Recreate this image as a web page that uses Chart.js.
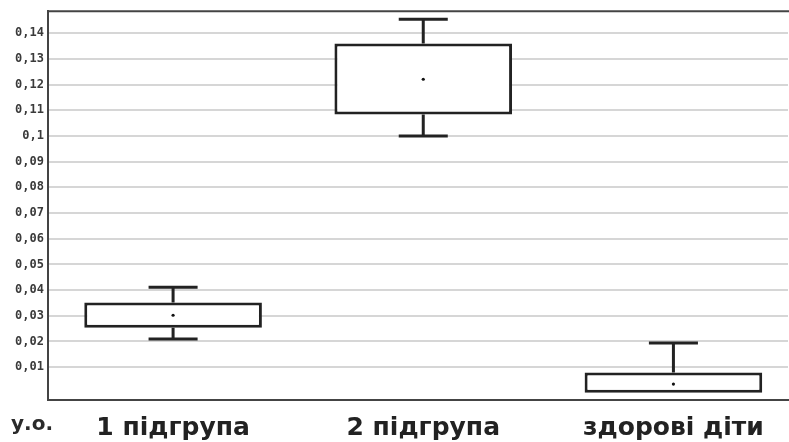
<!DOCTYPE html>
<html>
<head>
<meta charset="utf-8">
<script src="https://cdn.jsdelivr.net/npm/chart.js@4"></script>
<style>
    html, body { margin: 0; padding: 0; background: #fff; overflow: hidden; }
    #wrap { position: relative; width: 789px; height: 442px; overflow: hidden; }
    #unit {
        position: absolute; left: 11px; top: 411px; line-height: 20px;
        font: bold 20px "DejaVu Sans", sans-serif; color: #2a2a2a;
    }
</style>
</head>
<body>
<div id="wrap">
    <canvas id="boxChart" width="792" height="442"></canvas>
    <div id="unit">у.о.</div>
</div>
<script>
// Groups and box statistics
const groups = ['1 підгрупа', '2 підгрупа', 'здорові діти'];
const mins  = [0.0210, 0.1000, 0.0000];
const q1s   = [0.0253, 0.1084, 0.0000];
const q3s   = [0.0352, 0.1360, 0.0079];
const maxs  = [0.0411, 0.1455, 0.0194];
const means = [0.0302, 0.1221, 0.0034];

const yTicks = [0.01, 0.02, 0.03, 0.04, 0.05, 0.06, 0.07, 0.08, 0.09, 0.1, 0.11, 0.12, 0.13, 0.14];

// whiskers, caps and the top frame line
const boxExtras = {
    id: 'boxExtras',
    beforeDatasetsDraw(chart) {
        const { ctx, scales: { x, y } } = chart;
        ctx.save();
        ctx.strokeStyle = '#222';
        ctx.lineWidth = 3;
        ctx.lineCap = 'butt';
        groups.forEach((g, i) => {
            const cx = x.getPixelForValue(i + 1);
            const half = x.getPixelForValue(i + 1.098) - cx;
            ctx.beginPath();
            if (maxs[i] > q3s[i]) {
                ctx.moveTo(cx, y.getPixelForValue(q3s[i]));
                ctx.lineTo(cx, y.getPixelForValue(maxs[i]));
                ctx.moveTo(cx - half, y.getPixelForValue(maxs[i]));
                ctx.lineTo(cx + half, y.getPixelForValue(maxs[i]));
            }
            if (mins[i] < q1s[i]) {
                ctx.moveTo(cx, y.getPixelForValue(q1s[i]));
                ctx.lineTo(cx, y.getPixelForValue(mins[i]));
                ctx.moveTo(cx - half, y.getPixelForValue(mins[i]));
                ctx.lineTo(cx + half, y.getPixelForValue(mins[i]));
            }
            ctx.stroke();
        });
        // top frame
        const area = chart.chartArea;
        ctx.strokeStyle = '#444';
        ctx.lineWidth = 2;
        ctx.beginPath();
        ctx.moveTo(area.left - 1, area.top);
        ctx.lineTo(chart.width, area.top);
        ctx.stroke();
        ctx.restore();
    }
};

const ctx = document.getElementById('boxChart').getContext('2d');
new Chart(ctx, {
    type: 'bar',
    data: {
        datasets: [
            {
                type: 'scatter',
                label: 'mean',
                data: means.map((m, i) => ({ x: i + 1, y: m })),
                pointRadius: 1.6,
                pointBackgroundColor: '#111',
                pointBorderWidth: 0,
                order: 0
            },
            {
                label: 'box',
                data: q1s.map((q, i) => ({ x: i + 1, y: [q, q3s[i]] })),
                backgroundColor: '#fff',
                borderColor: '#222',
                borderWidth: 3,
                borderSkipped: false,
                barPercentage: 0.71,
                categoryPercentage: 1,
                order: 1
            }
        ]
    },
    options: {
        responsive: false,
        animation: false,
        layout: { padding: { top: 11, right: 0, left: 0, bottom: 0 } },
        plugins: {
            legend: { display: false },
            tooltip: { enabled: false }
        },
        scales: {
            x: {
                type: 'linear',
                offset: false,
                min: 0.5,
                max: 3.458,
                afterBuildTicks: (scale) => {
                    scale.ticks = groups.map((g, i) => ({ value: i + 1 }));
                },
                afterFit: (scale) => { scale.height = 42; },
                grid: { display: false, drawTicks: false },
                border: { display: true, color: '#444', width: 2 },
                ticks: {
                    padding: 13,
                    color: '#222',
                    font: { family: 'DejaVu Sans', size: 25, weight: 'bold' },
                    callback: (v) => groups[v - 1] || ''
                }
            },
            y: {
                min: -0.0028,
                max: 0.1486,
                afterBuildTicks: (scale) => {
                    scale.ticks = yTicks.map(v => ({ value: v }));
                },
                afterFit: (scale) => { scale.width = 48; },
                grid: { color: '#d6d6d6', lineWidth: 2, drawTicks: false },
                border: { display: true, color: '#444', width: 2 },
                ticks: {
                    padding: 4,
                    color: '#3a3a3a',
                    font: { family: 'DejaVu Sans Mono', size: 12, weight: 'bold' },
                    callback: (v) => String(Math.round(v * 100) / 100).replace('.', ',')
                }
            }
        }
    },
    plugins: [boxExtras]
});
</script>
</body>
</html>
